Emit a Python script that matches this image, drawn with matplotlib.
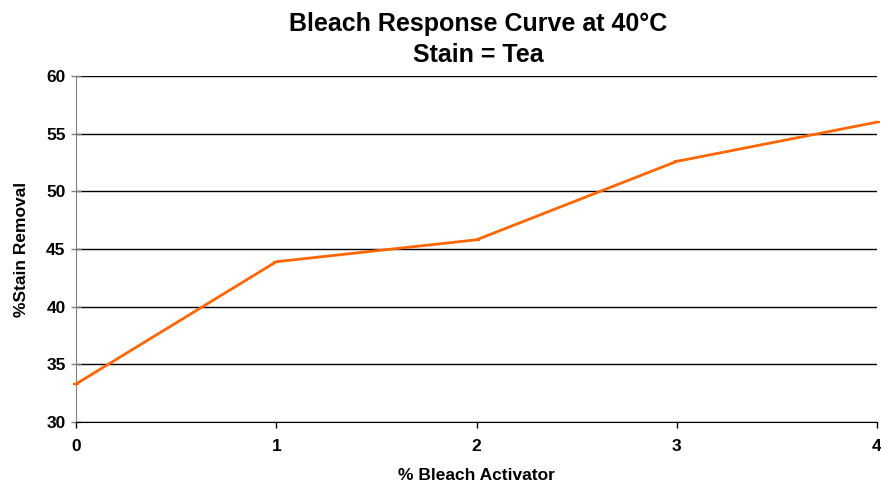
import matplotlib
matplotlib.use('Agg')
import matplotlib.pyplot as plt

# datos
activador = [0, 1, 2, 3, 4]
remocion = [33.3, 43.9, 45.8, 52.6, 56.0]
yticks = [30, 35, 40, 45, 50, 55, 60]

plt.rcParams['font.family'] = ['Liberation Sans', 'DejaVu Sans']

fig = plt.figure(figsize=(8.81, 4.84), dpi=100)
ax = fig.add_axes([0.0863, 0.128, 0.9092, 0.715])

ax.plot(activador, remocion, color='#FF6600', linewidth=2, marker='_', markersize=5,
        markeredgewidth=1.5, clip_on=False, zorder=3)

ax.set_xlim(0, 4)
ax.set_ylim(30, 60)
ax.set_xticks(activador)
ax.set_yticks(yticks)
ax.yaxis.grid(True, color='black', linewidth=1)
ax.set_axisbelow(True)

for s in ['top', 'right']:
    ax.spines[s].set_visible(False)
ax.spines['left'].set_color('#808080')
ax.spines['bottom'].set_color('black')
ax.tick_params(axis='both', labelsize=12.5, width=1)
ax.tick_params(axis='y', direction='inout', length=7, color='#808080', pad=4)
ax.tick_params(axis='x', length=4, pad=8)
for lbl in ax.get_xticklabels() + ax.get_yticklabels():
    lbl.set_fontweight('bold')

ax.set_xlabel('% Bleach Activator', fontsize=12.5, fontweight='bold', labelpad=10)
ax.set_ylabel('%Stain Removal', fontsize=12.5, fontweight='bold', labelpad=12)
fig.suptitle('Bleach Response Curve at 40°C\nStain = Tea', fontsize=18, fontweight='bold',
             x=0.543, y=0.975, linespacing=1.35)

fig.savefig('out.png', dpi=100)
